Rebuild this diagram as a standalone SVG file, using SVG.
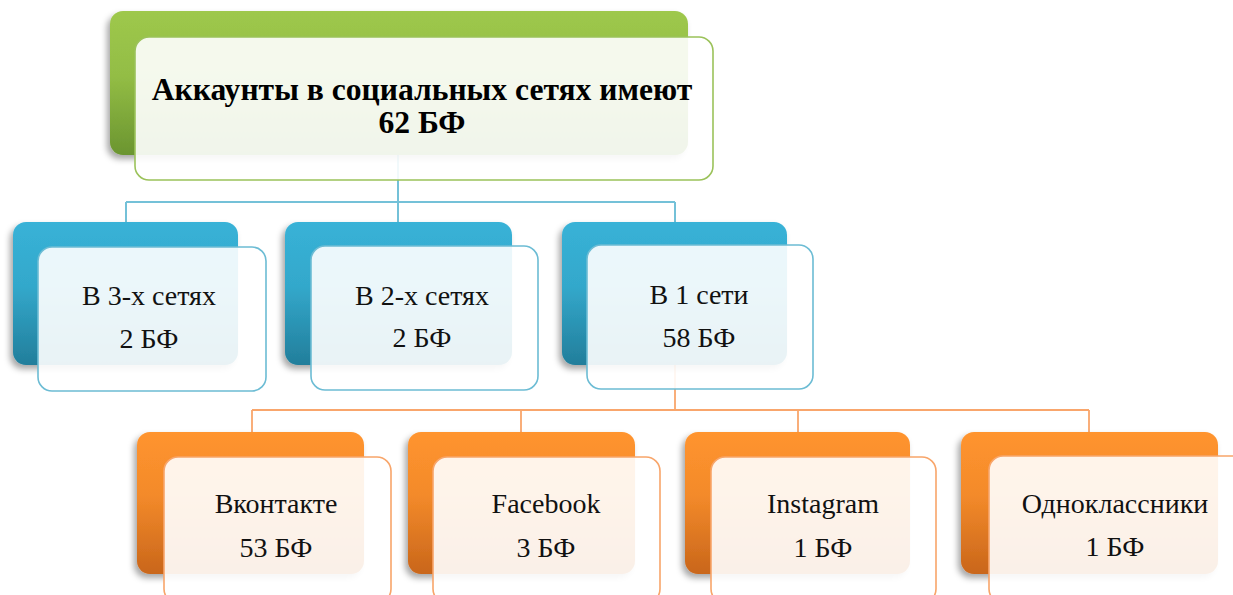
<svg xmlns="http://www.w3.org/2000/svg" width="1233" height="595" viewBox="0 0 1233 595">
  <defs>
    <linearGradient id="gGreen" x1="0" y1="0" x2="0" y2="1">
      <stop offset="0" stop-color="#9EC84C"/>
      <stop offset="0.45" stop-color="#93BD45"/>
      <stop offset="1" stop-color="#6B9530"/>
    </linearGradient>
    <linearGradient id="gBlue" x1="0" y1="0" x2="0" y2="1">
      <stop offset="0" stop-color="#38B2D7"/>
      <stop offset="0.45" stop-color="#33A8CB"/>
      <stop offset="1" stop-color="#227E9B"/>
    </linearGradient>
    <linearGradient id="gOrange" x1="0" y1="0" x2="0" y2="1">
      <stop offset="0" stop-color="#FF942F"/>
      <stop offset="0.45" stop-color="#F38A2A"/>
      <stop offset="1" stop-color="#C9661B"/>
    </linearGradient>
    <filter id="sh" x="-10%" y="-10%" width="120%" height="130%">
      <feDropShadow dx="-3" dy="4" stdDeviation="3" flood-color="#000" flood-opacity="0.35"/>
    </filter>
  </defs>
  <style>
    .back { filter: url(#sh); }
    .front { fill: #FFFFFF; fill-opacity: 0.9; stroke-width: 1.6; }
    .fg { stroke: #9BC25A; }
    .fb { stroke: #6CBCD4; }
    .fo { stroke: #F8A56A; }
    .t { font-family: "Liberation Serif", "Times New Roman", serif; font-size: 28px; fill: #111; text-anchor: middle; }
    .tb { font-family: "Liberation Serif", "Times New Roman", serif; font-size: 31.6px; font-weight: bold; fill: #000; text-anchor: middle; }
    .cb { stroke: #74C1D8; stroke-width: 2; fill: none; }
    .co { stroke: #F9A66C; stroke-width: 1.8; fill: none; }
  </style>

  <g id="connectors">
    <path class="cb" d="M398 155 V202 M126 202 H675 M126 202 V223 M398 202 V222 M675 202 V222"/>
    <path class="co" d="M675 365 V410 M252 410 H1089 M252 410 V432 M521 410 V432 M798 410 V432 M1089 410 V432"/>
  </g>

  <g id="root">
    <rect class="back" x="110" y="11" width="578" height="144" rx="13" fill="url(#gGreen)"/>
    <rect class="front fg" x="135" y="37" width="578" height="143" rx="14"/>
    <text class="tb" x="422" y="100">Аккаунты в социальных сетях имеют</text>
    <text class="tb" x="422" y="133">62 БФ</text>
  </g>

  <g id="n3">
    <rect class="back" x="13" y="222" width="225" height="143" rx="13" fill="url(#gBlue)"/>
    <rect class="front fb" x="38" y="247" width="228" height="144" rx="14"/>
    <text class="t" x="149" y="305">В 3-х сетях</text>
    <text class="t" x="149" y="348">2 БФ</text>
  </g>

  <g id="n2">
    <rect class="back" x="285" y="222" width="227" height="143" rx="13" fill="url(#gBlue)"/>
    <rect class="front fb" x="311" y="246" width="227" height="144" rx="14"/>
    <text class="t" x="422" y="305">В 2-х сетях</text>
    <text class="t" x="422" y="347">2 БФ</text>
  </g>

  <g id="n1">
    <rect class="back" x="562" y="222" width="225" height="143" rx="13" fill="url(#gBlue)"/>
    <rect class="front fb" x="587" y="245" width="226" height="144" rx="14"/>
    <text class="t" x="699" y="304">В 1 сети</text>
    <text class="t" x="699" y="347">58 БФ</text>
  </g>

  <g id="vk">
    <rect class="back" x="137" y="432" width="227" height="142" rx="13" fill="url(#gOrange)"/>
    <rect class="front fo" x="164" y="457" width="227" height="146" rx="14"/>
    <text class="t" x="276" y="513">Вконтакте</text>
    <text class="t" x="276" y="557">53 БФ</text>
  </g>

  <g id="fb">
    <rect class="back" x="408" y="432" width="227" height="142" rx="13" fill="url(#gOrange)"/>
    <rect class="front fo" x="433" y="457" width="227" height="146" rx="14"/>
    <text class="t" x="546" y="513">Facebook</text>
    <text class="t" x="546" y="557">3 БФ</text>
  </g>

  <g id="ig">
    <rect class="back" x="685" y="432" width="225" height="142" rx="13" fill="url(#gOrange)"/>
    <rect class="front fo" x="711" y="457" width="225" height="146" rx="14"/>
    <text class="t" x="823" y="513">Instagram</text>
    <text class="t" x="823" y="557">1 БФ</text>
  </g>

  <g id="ok">
    <rect class="back" x="961" y="432" width="257" height="142" rx="13" fill="url(#gOrange)"/>
    <rect class="front fo" x="989" y="456" width="257" height="147" rx="14"/>
    <text class="t" x="1115" y="513">Одноклассники</text>
    <text class="t" x="1115" y="556">1 БФ</text>
  </g>
</svg>
